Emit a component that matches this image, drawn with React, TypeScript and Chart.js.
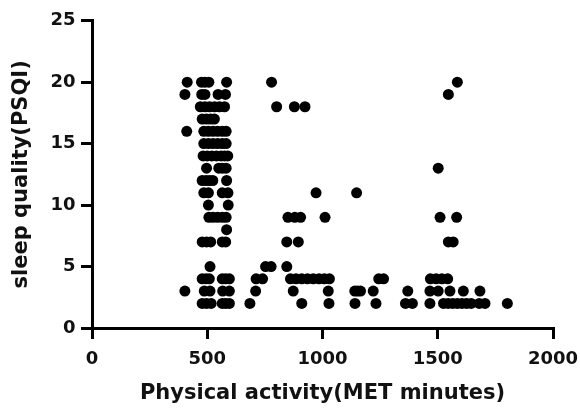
import React, { useEffect, useRef } from "react";
import { Chart, registerables } from "chart.js";

Chart.register(...registerables);

// PSQI score levels and the MET-minute values observed at each level
const psqiLevels = [20, 19, 18, 17, 16, 15, 14, 13, 12, 11, 10, 9, 8, 7, 5, 4, 3, 2];

const metByLevel: number[][] = [
  [413, 475, 490, 507, 584, 779, 1585],
  [403, 476, 490, 547, 579, 1546],
  [470, 490, 510, 532, 553, 575, 801, 878, 924],
  [478, 497, 515, 531],
  [411, 485, 505, 525, 545, 565, 582],
  [485, 505, 525, 545, 565, 582],
  [482, 500, 520, 540, 560, 575, 589],
  [497, 550, 566, 582, 1502],
  [478, 495, 510, 524, 584],
  [485, 505, 565, 590, 972, 1148],
  [505, 591],
  [507, 525, 545, 565, 582, 850, 880, 905, 1011, 1510, 1582],
  [584],
  [478, 497, 515, 565, 580, 845, 895, 1546, 1567],
  [512, 753, 777, 845],
  [478, 495, 509, 565, 580, 596, 712, 740, 861, 885, 910, 935, 960, 985, 1008, 1030, 1244, 1265, 1468, 1493, 1518, 1543],
  [403, 487, 512, 567, 596, 710, 873, 1025, 1140, 1152, 1165, 1220, 1370, 1466, 1502, 1553, 1611, 1683],
  [478, 497, 517, 565, 580, 596, 685, 910, 1028, 1141, 1232, 1360, 1390, 1466, 1525, 1545, 1565, 1585, 1605, 1625, 1645, 1680, 1705, 1802],
];

const xTicks = [0, 500, 1000, 1500, 2000];
const yTicks = [0, 5, 10, 15, 20, 25];

const xTitle = "Physical activity(MET minutes)";
const yTitle = "sleep quality(PSQI)";

export default function App() {
  const ref = useRef<HTMLCanvasElement | null>(null);

  useEffect(() => {
    document.body.style.margin = "0";
    const canvas = ref.current;
    if (!canvas) return;

    const points: { x: number; y: number }[] = [];
    psqiLevels.forEach((lvl, i) => {
      metByLevel[i].forEach((m) => points.push({ x: m, y: lvl }));
    });

    const tickFont = { family: "DejaVu Sans", size: 18, weight: "bold" as const };
    const titleFont = { family: "DejaVu Sans", size: 21, weight: "bold" as const };
    const plain = (v: any) => String(v);

    const chart = new Chart(canvas, {
      type: "scatter",
      data: {
        datasets: [
          {
            data: points,
            backgroundColor: "#000",
            borderWidth: 0,
            pointRadius: 5.5,
            pointHoverRadius: 5.5,
          },
        ],
      },
      options: {
        animation: false,
        responsive: false,
        devicePixelRatio: 1,
        events: [],
        layout: { padding: { top: 20.7, right: 27, left: 0, bottom: 0 } },
        plugins: { legend: { display: false }, tooltip: { enabled: false } },
        scales: {
          x: {
            type: "linear",
            min: xTicks[0],
            max: xTicks[xTicks.length - 1],
            afterBuildTicks: (s: any) => {
              s.ticks = xTicks.map((v) => ({ value: v }));
            },
            afterFit: (s: any) => {
              s.height = 84;
              s.paddingLeft = 0;
              s.paddingRight = 0;
            },
            border: { display: true, color: "#000", width: 3 },
            grid: { drawOnChartArea: false, drawTicks: true, tickLength: 11, color: "#000", lineWidth: 3 },
            ticks: { color: "#111", font: tickFont, padding: 10, maxRotation: 0, callback: plain },
            title: { display: true, text: xTitle, color: "#111", font: titleFont, padding: { top: 0, bottom: 5.4 } },
          },
          y: {
            type: "linear",
            min: yTicks[0],
            max: yTicks[yTicks.length - 1],
            afterBuildTicks: (s: any) => {
              s.ticks = yTicks.map((v) => ({ value: v }));
            },
            afterFit: (s: any) => {
              s.width = 92;
              s.paddingTop = 0;
              s.paddingBottom = 0;
            },
            border: { display: true, color: "#000", width: 3 },
            grid: { drawOnChartArea: false, drawTicks: true, tickLength: 11, color: "#000", lineWidth: 3 },
            ticks: { color: "#111", font: tickFont, padding: 5.5, callback: plain },
            title: { display: true, text: yTitle, color: "#111", font: titleFont, padding: { top: 8.9, bottom: 0 } },
          },
        },
      },
    });

    return () => chart.destroy();
  }, []);

  return <canvas ref={ref} width={580} height={412} style={{ display: "block" }} />;
}
